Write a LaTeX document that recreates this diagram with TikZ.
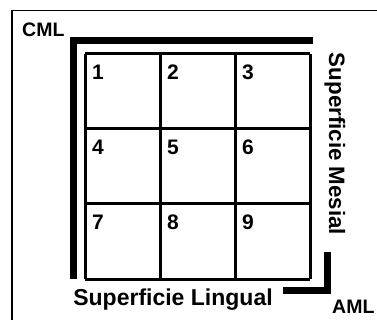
\documentclass[tikz,border=0pt]{standalone}
\usepackage{fontspec}
\setmainfont{Liberation Sans}
\usetikzlibrary{positioning}
\tikzset{
    % Outer frame - thin black line
    frame line/.style={black, line width=1.4pt},
    % Thick corner markers (CML / AML)
    marker bar/.style={black, line width=7pt, miter limit=10},
    % Tooth grid lines
    grid line/.style={black, line width=3pt},
    % Cell numbers
    cell number/.style={anchor=base west, inner sep=0pt, font=\fontsize{21}{24}\selectfont\bfseries},
    % Corner labels
    corner label/.style={anchor=base west, inner sep=0pt, font=\fontsize{19.5}{22}\selectfont\bfseries},
    % Surface labels
    surface label/.style={anchor=base, inner sep=0pt, font=\bfseries}
}

\begin{document}
\begin{tikzpicture}[x=1pt, y=-1pt]
    \useasboundingbox (0,0) rectangle (377,320);

    % --- Set up coordinates ---
    \coordinate (F1) at (12,320);
    \coordinate (F2) at (12,10.5);
    \coordinate (F3) at (377,10.5);

    % CML corner bar
    \coordinate (C1) at (73.5,279);
    \coordinate (C2) at (73.5,40.5);
    \coordinate (C3) at (313,40.5);

    % AML corner bar
    \coordinate (A1) at (327,252);
    \coordinate (A2) at (327,290);
    \coordinate (A3) at (283,290);

    % --- Draw frame and bars ---
    \draw[frame line] (F1) -- (F2) -- (F3);
    \draw[marker bar] (C1) -- (C2) -- (C3);
    \draw[marker bar] (A1) -- (A2) -- (A3);

    % --- Draw 3x3 grid ---
    \foreach \i in {0,...,3} {
        \draw[grid line] (85+75*\i,54) -- (85+75*\i,279);
        \draw[grid line] (85,54+75*\i) -- (310,54+75*\i);
    }

    % --- Cell numbers ---
    \foreach \r in {0,1,2} {
        \foreach \c in {0,1,2} {
            \pgfmathtruncatemacro{\n}{3*\r+\c+1}
            \node[cell number] (n\n) at (92+75*\c,79.5+75*\r) {\n};
        }
    }

    % --- Labels ---
    \node[corner label] (cml) at (22,37) {CML};
    \node[corner label] (aml) at (332,313) {AML};
    \node[surface label, font=\fontsize{23}{26}\selectfont\bfseries] (lingual) at (173,305) {Superficie Lingual};
    \node[surface label, font=\fontsize{22.3}{26}\selectfont\bfseries, rotate=-90] (mesial) at (329,144) {Superficie Mesial};

\end{tikzpicture}
\end{document}
